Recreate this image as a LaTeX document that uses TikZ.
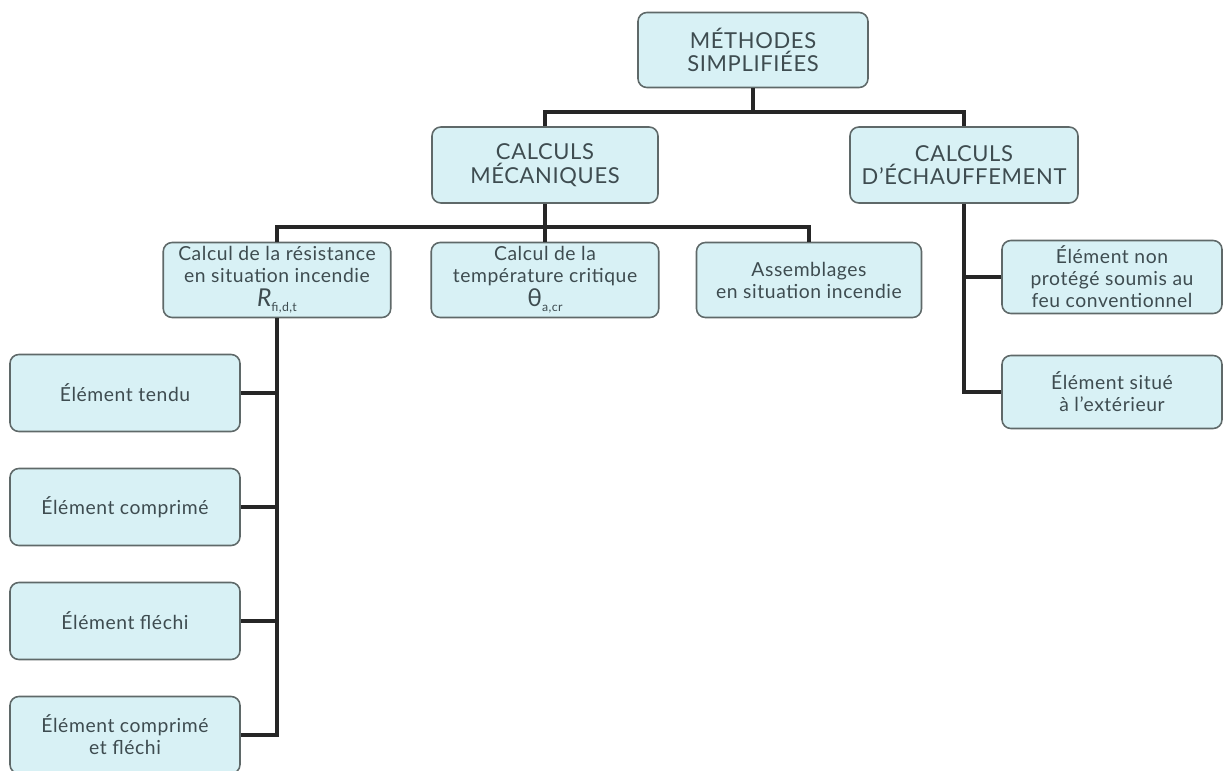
\documentclass[tikz,border=0pt]{standalone}
\usepackage{fontspec}
\setmainfont{Lato}[LetterSpace=3]
\usetikzlibrary{positioning}
\definecolor{BoxFill}{RGB}{216,241,245}
\definecolor{BoxLine}{RGB}{95,105,105}
\definecolor{TextGrey}{RGB}{62,76,80}

\tikzset{
  box/.style={draw=BoxLine, line width=0.9pt, fill=BoxFill, rounded corners=5pt,
    text=TextGrey, align=center, inner sep=2pt,
    minimum width=4.55cm, minimum height=1.5cm,
    font=\fontsize{11}{12.5}\selectfont},
  capbox/.style={box, font=\fontsize{12.5}{13.5}\selectfont},
  tallbox/.style={box, inner ysep=0pt},
  link/.style={line width=1.8pt, black!85},
}

\begin{document}
\begin{tikzpicture}[x=0.02cm, y=-0.02cm]
    \useasboundingbox (0,0) rectangle (1225,771);

    % Top levels
    \node[capbox, minimum width=4.6cm] (root) at (753,50) {MÉTHODES\\SIMPLIFIÉES};
    \node[capbox, minimum width=4.52cm, minimum height=1.52cm] (meca) at (545,165) {CALCULS\\MÉCANIQUES};
    \node[capbox, minimum width=4.56cm, minimum height=1.52cm] (echauf) at (964,165) {CALCULS\\D’ÉCHAUFFEMENT};

    % Mechanical calculations
    \node[tallbox] (resist) at (277,280) {Calcul de la résistance\\en situation incendie\\[1pt]
      {\fontsize{14}{14}\selectfont\itshape R}{\fontsize{7}{7}\selectfont\raisebox{-3pt}{fi,d,t}}};
    \node[tallbox] (temp) at (545,280) {Calcul de la\\température critique\\[1pt]
      {\fontsize{14}{14}\selectfont θ}{\fontsize{7}{7}\selectfont\raisebox{-3pt}{a,cr}}};
    \node[box, minimum width=4.5cm] (assemb) at (809,280) {Assemblages\\en situation incendie};

    % Elements
    \node[box, minimum width=4.6cm, minimum height=1.54cm] (tendu) at (125,393) {Élément tendu};
    \node[box, minimum width=4.6cm, minimum height=1.54cm] (compr) at (125,507) {Élément comprimé};
    \node[box, minimum width=4.6cm, minimum height=1.54cm] (flechi) at (125,621) {Élément fléchi};
    \node[box, minimum width=4.6cm, minimum height=1.54cm] (cf) at (125,735) {Élément comprimé\\et fléchi};

    % Heating calculations
    \node[box, minimum width=4.4cm, minimum height=1.46cm] (nonprot) at (1112,277) {Élément non\\protégé soumis au\\feu conventionnel};
    \node[box, minimum width=4.4cm, minimum height=1.46cm] (exter) at (1112,392) {Élément situé\\à l’extérieur};

    % Connectors
    \coordinate (bus1) at (753,112);
    \coordinate (bus2) at (545,227);
    \draw[link] (root.south) -- (bus1);
    \draw[link] (meca.north) |- (bus1) -| (echauf.north);
    \draw[link] (meca.south) -- (bus2);
    \draw[link] (resist.north) |- (bus2) -| (assemb.north);
    \draw[link] (temp.north) -- (bus2);

    \draw[link] (resist.south) |- (cf.east);
    \foreach \n in {tendu, compr, flechi}
      \draw[link] (\n.east) -- (\n.east -| resist.south);

    \draw[link] (echauf.south) |- (exter.west);
    \draw[link] (nonprot.west) -- (nonprot.west -| echauf.south);
\end{tikzpicture}
\end{document}
